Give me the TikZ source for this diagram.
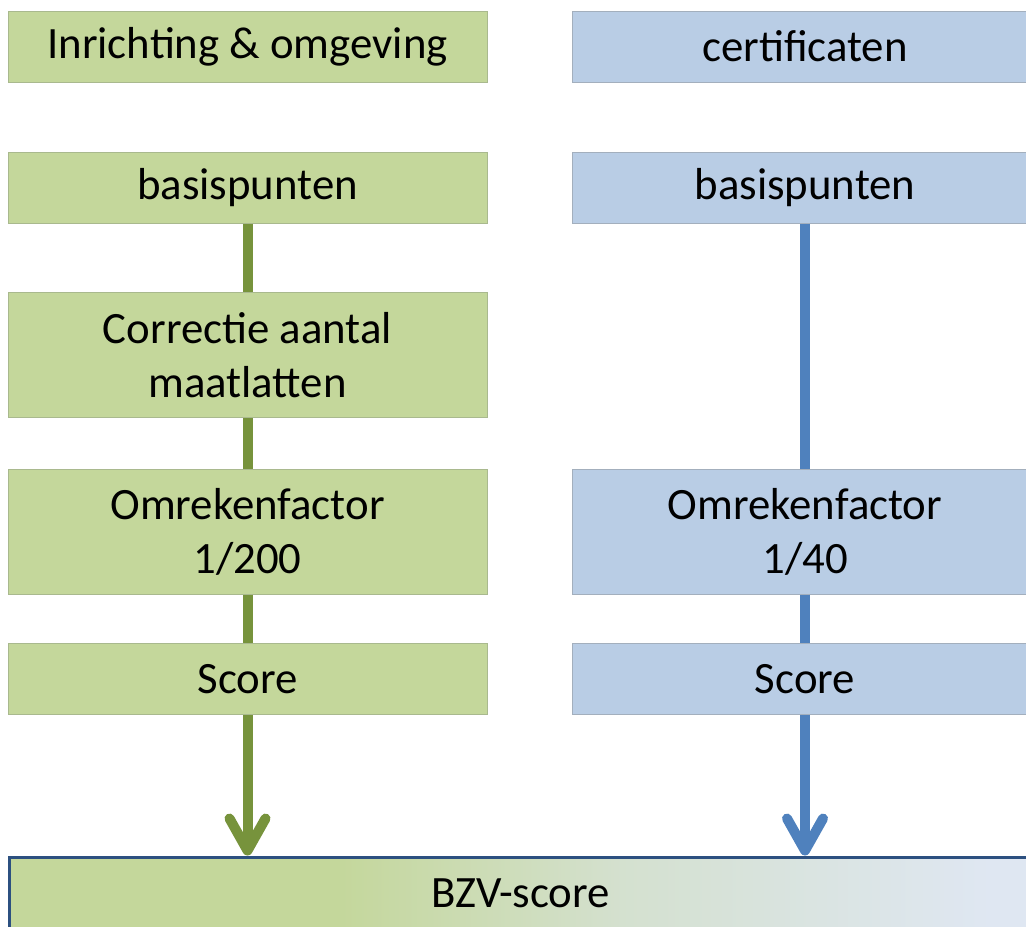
\documentclass[tikz,border=0pt]{standalone}
\usepackage{fontspec}
\setmainfont{Carlito}
\usetikzlibrary{arrows.meta,positioning}

\definecolor{fillgreen}{HTML}{C4D79B}
\definecolor{fillblue}{HTML}{B9CDE5}
\definecolor{edgegreen}{HTML}{A9B98E}
\definecolor{edgeblue}{HTML}{A3AFBD}
\definecolor{linegreen}{HTML}{77933C}
\definecolor{lineblue}{HTML}{4F81BD}
\definecolor{barblue}{HTML}{DFE7F2}
\definecolor{baredge}{HTML}{2C5080}
\pgfdeclarehorizontalshading{bzvfade}{100bp}{color(0bp)=(fillgreen); color(41bp)=(fillgreen); color(55bp)=(fillgreen!40!barblue); color(73bp)=(barblue); color(100bp)=(barblue)}

\begin{document}
\begin{tikzpicture}[x=0.5pt,y=-0.5pt]
		\tikzstyle{greenbox}=[draw=edgegreen,fill=fillgreen,line width=0.5pt,minimum width=239.5pt,minimum height=35.5pt,inner sep=0pt,align=center,font=\fontsize{22.4}{27}\selectfont]
		\tikzstyle{bluebox}=[draw=edgeblue,fill=fillblue,line width=0.5pt,minimum width=233pt,minimum height=35.5pt,inner sep=0pt,align=center,font=\fontsize{22.4}{27}\selectfont]
		\tikzstyle{tallbox}=[minimum height=62.5pt]
		\tikzstyle{greenline}=[linegreen,line width=5pt]
		\tikzstyle{blueline}=[lineblue,line width=5pt]
		\tikzstyle{down}=[arrows={-Straight Barb[round,length=16pt,width=18pt]}]
		
		\useasboundingbox (0,0) rectangle (1026,926);
		
		% left column
		\node[greenbox] (lhead) at (247.5,46.5) {Inrichting \& omgeving};
		\node[greenbox] (lbasis) at (247.5,187.5) {basispunten};
		\node[greenbox,tallbox] (lcorr) at (247.5,355) {Correctie aantal\\maatlatten};
		\node[greenbox,tallbox] (lomr) at (247.5,531.5) {Omrekenfactor\\1/200};
		\node[greenbox] (lscore) at (247.5,679) {Score};
		
		% right column
		\node[bluebox] (rhead) at (805,46.5) {certificaten};
		\node[bluebox] (rbasis) at (805,187.5) {basispunten};
		\node[bluebox,tallbox] (romr) at (805,531.5) {Omrekenfactor\\1/40};
		\node[bluebox] (rscore) at (805,679) {Score};
		
		% bottom bar
		\node[draw=baredge,line width=1.5pt,shading=bzvfade,minimum width=511pt,minimum height=36pt,inner sep=0pt,font=\fontsize{22.4}{27}\selectfont] (bzv) at (520.5,893) {BZV-score};
		
		\draw [greenline] (lbasis) -- (lcorr);
		\draw [greenline] (lcorr) -- (lomr);
		\draw [greenline] (lomr) -- (lscore);
		\draw [greenline,down] (lscore) -- (lscore |- bzv.north);
		
		\draw [blueline] (rbasis) -- (romr);
		\draw [blueline] (romr) -- (rscore);
		\draw [blueline,down] (rscore) -- (rscore |- bzv.north);
\end{tikzpicture}
\end{document}
